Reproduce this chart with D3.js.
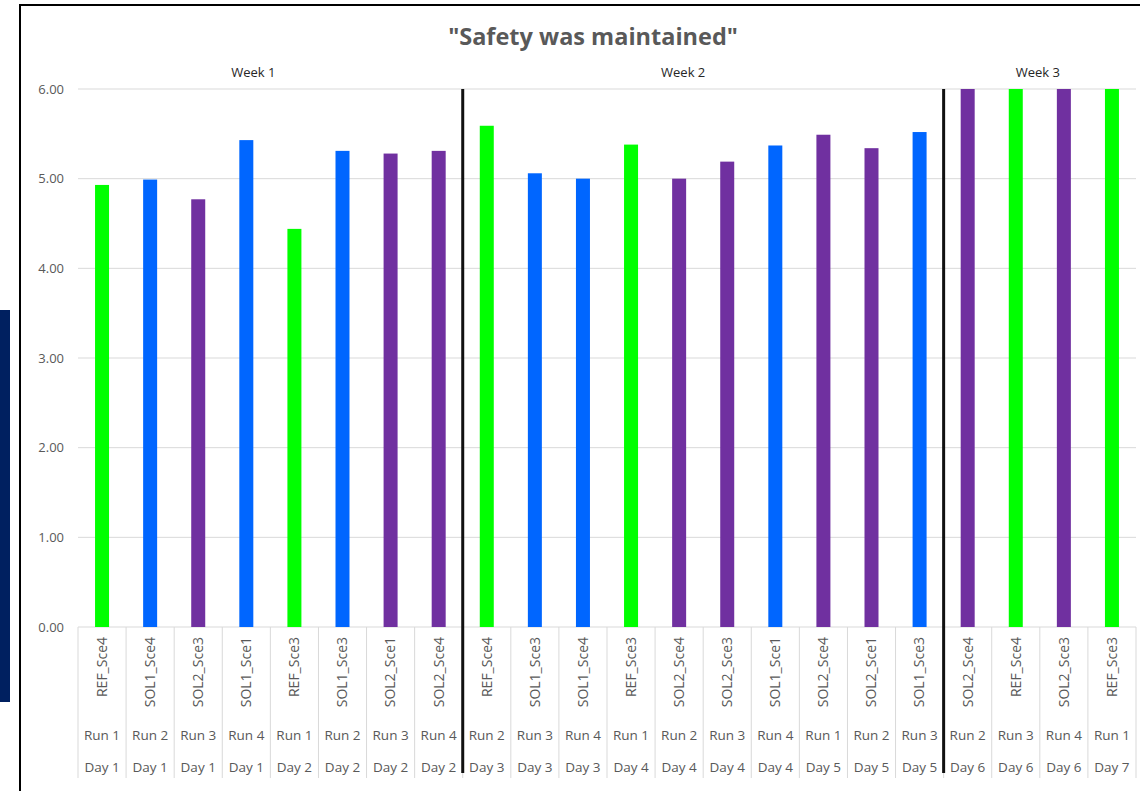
<!DOCTYPE html>
<html>
<head>
<meta charset="utf-8">
<script src="https://cdn.jsdelivr.net/npm/d3@7"></script>
<style>
  body { margin: 0; background: #fff; }
  svg { display: block; font-family: "Open Sans", "Liberation Sans", sans-serif; }
</style>
</head>
<body>
<svg width="1140" height="791"></svg>
<script>
// Chart values
const scenarios = ["REF_Sce4", "SOL1_Sce4", "SOL2_Sce3", "SOL1_Sce1", "REF_Sce3", "SOL1_Sce3", "SOL2_Sce1", "SOL2_Sce4",
  "REF_Sce4", "SOL1_Sce3", "SOL1_Sce4", "REF_Sce3", "SOL2_Sce4", "SOL2_Sce3", "SOL1_Sce1", "SOL2_Sce4", "SOL2_Sce1", "SOL1_Sce3",
  "SOL2_Sce4", "REF_Sce4", "SOL2_Sce3", "REF_Sce3"];
const runs = ["Run 1", "Run 2", "Run 3", "Run 4", "Run 1", "Run 2", "Run 3", "Run 4",
  "Run 2", "Run 3", "Run 4", "Run 1", "Run 2", "Run 3", "Run 4", "Run 1", "Run 2", "Run 3",
  "Run 2", "Run 3", "Run 4", "Run 1"];
const days = ["Day 1", "Day 1", "Day 1", "Day 1", "Day 2", "Day 2", "Day 2", "Day 2",
  "Day 3", "Day 3", "Day 3", "Day 4", "Day 4", "Day 4", "Day 4", "Day 5", "Day 5", "Day 5",
  "Day 6", "Day 6", "Day 6", "Day 7"];
const values = [4.93, 4.99, 4.77, 5.43, 4.44, 5.31, 5.28, 5.31,
  5.59, 5.06, 5.00, 5.38, 5.00, 5.19, 5.37, 5.49, 5.34, 5.52,
  6.00, 6.00, 6.00, 6.00];
const weeks = ["Week 1", "Week 2", "Week 3"];
const weekSizes = [8, 10, 4];
const yTicks = [0, 1, 2, 3, 4, 5, 6];

const colorOf = s => s.startsWith("REF") ? "#00ff00" : s.startsWith("SOL1") ? "#0066ff" : "#7030a0";

const svg = d3.select("svg");

// frame and side bar
svg.append("rect").attr("x", 0).attr("y", 310).attr("width", 10).attr("height", 392).attr("fill", "#002060");
svg.append("rect").attr("x", 20).attr("y", 5).attr("width", 1140).attr("height", 820)
  .attr("fill", "none").attr("stroke", "#000").attr("stroke-width", 2);

const plotLeft = 78, plotRight = 1136, plotTop = 89, plotBottom = 627;

const x = d3.scaleBand().domain(d3.range(values.length)).range([plotLeft, plotRight]).paddingInner(0).paddingOuter(0);
const y = d3.scaleLinear().domain([0, 6]).range([plotBottom, plotTop]);

// title
svg.append("text")
  .attr("x", 593).attr("y", 45)
  .attr("text-anchor", "middle")
  .attr("fill", "#595959")
  .attr("font-size", 23.5).attr("font-weight", "bold")
  .text("\"Safety was maintained\"");

// gridlines
svg.append("g").selectAll("line")
  .data(yTicks)
  .join("line")
  .attr("x1", plotLeft).attr("x2", plotRight)
  .attr("y1", d => y(d)).attr("y2", d => y(d))
  .attr("stroke", "#d9d9d9").attr("stroke-width", 1);

// y axis labels
const yAxis = svg.append("g")
  .attr("transform", `translate(${plotLeft - 14},0)`)
  .call(d3.axisLeft(y).tickValues(yTicks).tickFormat(d3.format(".2f")).tickSize(0).tickPadding(0));
yAxis.select(".domain").remove();
yAxis.selectAll("text").attr("fill", "#595959").attr("font-size", 13)
  .attr("font-family", "\"Open Sans\", sans-serif");

// bars
const barW = 14;
svg.append("g").selectAll("rect")
  .data(values)
  .join("rect")
  .attr("x", (d, i) => x(i) + x.bandwidth() / 2 - barW / 2)
  .attr("y", d => y(d))
  .attr("width", barW)
  .attr("height", d => y(0) - y(d))
  .attr("fill", (d, i) => colorOf(scenarios[i]));

// category cell borders
svg.append("g").selectAll("line")
  .data(d3.range(values.length + 1))
  .join("line")
  .attr("x1", i => i < values.length ? x(i) : plotRight)
  .attr("x2", i => i < values.length ? x(i) : plotRight)
  .attr("y1", plotBottom).attr("y2", 778)
  .attr("stroke", "#d9d9d9").attr("stroke-width", 1);

// category labels
const cx = i => x(i) + x.bandwidth() / 2;
svg.append("g").selectAll("text")
  .data(scenarios)
  .join("text")
  .attr("transform", (d, i) => `translate(${cx(i)},637) rotate(-90)`)
  .attr("text-anchor", "end")
  .attr("dy", "0.35em")
  .attr("fill", "#595959").attr("font-size", 14)
  .text(d => d);

svg.append("g").selectAll("text")
  .data(runs)
  .join("text")
  .attr("x", (d, i) => cx(i)).attr("y", 740)
  .attr("text-anchor", "middle")
  .attr("fill", "#595959").attr("font-size", 13.5)
  .text(d => d);

svg.append("g").selectAll("text")
  .data(days)
  .join("text")
  .attr("x", (d, i) => cx(i)).attr("y", 772)
  .attr("text-anchor", "middle")
  .attr("fill", "#595959").attr("font-size", 13.5)
  .text(d => d);

// week separators and labels
const starts = weekSizes.map((s, i) => d3.sum(weekSizes.slice(0, i)));
const labelShift = [-17, -20, -2];
svg.append("g").selectAll("line")
  .data(starts.slice(1))
  .join("line")
  .attr("x1", d => x(d)).attr("x2", d => x(d))
  .attr("y1", plotTop).attr("y2", 773)
  .attr("stroke", "#111").attr("stroke-width", 3);

svg.append("g").selectAll("text")
  .data(weeks)
  .join("text")
  .attr("x", (d, i) => {
    const a = x(starts[i]);
    const b = i + 1 < weeks.length ? x(starts[i + 1]) : plotRight;
    return (a + b) / 2 + labelShift[i];
  })
  .attr("y", 77)
  .attr("text-anchor", "middle")
  .attr("fill", "#262626").attr("font-size", 13)
  .text(d => d);
</script>
</body>
</html>
